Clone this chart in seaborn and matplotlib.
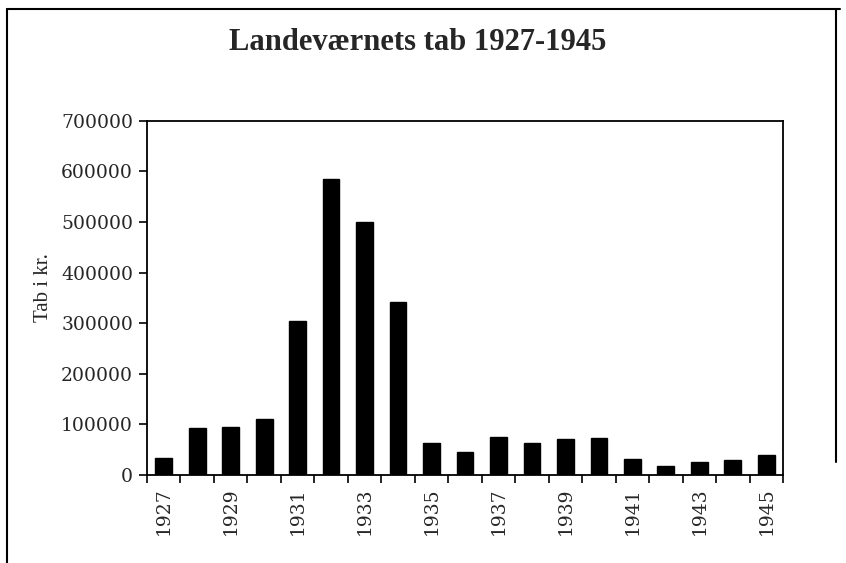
import matplotlib
matplotlib.use("Agg")
import matplotlib.pyplot as plt
import seaborn as sns
import pandas as pd
from matplotlib.lines import Line2D
from matplotlib.ticker import FixedLocator

years = list(range(1927, 1946))
losses = [34000, 92000, 94000, 111000, 304000, 584000, 500000, 342000,
          63000, 45000, 75000, 63500, 71500, 73000, 32000, 18000, 25000, 30000, 39000]
label_years = [str(y) if (y - 1927) % 2 == 0 else "" for y in years]
title = "Landeværnets tab 1927-1945"
ylabel = "Tab i kr."

sns.set_theme(style="white")
plt.rcParams['font.family'] = ['Liberation Serif', 'DejaVu Serif']
tick_font = ['DejaVu Serif', 'Liberation Serif']

df = pd.DataFrame({"year": [str(y) for y in years], "loss": losses})

fig = plt.figure(figsize=(8.46, 5.63), dpi=100)
ax = fig.add_axes([147/846, 1-475/563, (783-147)/846, (475-120.7)/563])
sns.barplot(data=df, x="year", y="loss", color="black", width=0.5,
            saturation=1, ax=ax, edgecolor="black")

ax.set_xlim(-0.5, len(years) - 0.5)
ax.set_ylim(0, 700000)
ax.set_yticks(range(0, 700001, 100000))
ax.set_yticklabels([str(v) for v in range(0, 700001, 100000)], fontsize=13.5, family=tick_font)
ax.set_xticks(range(len(years)))
ax.set_xticklabels(label_years, rotation=90, fontsize=13.5, family=tick_font)
ax.xaxis.set_minor_locator(FixedLocator([i - 0.5 for i in range(len(years) + 1)]))
ax.tick_params(axis="x", which="major", length=0, pad=9)
ax.tick_params(axis="x", which="minor", length=6, width=1.2, color="black", direction="out", bottom=True)
ax.tick_params(axis="y", which="major", length=6, width=1.2, color="black", direction="out", left=True, pad=4)
for s in ax.spines.values():
    s.set_visible(True)
    s.set_color("black")
    s.set_linewidth(1.3)
ax.set_xlabel("")
ax.set_ylabel(ylabel, fontsize=15)
ax.yaxis.set_label_coords(-0.148, 0.53)
ax.grid(False)

fig.text(0.494, 1 - 42/563, title, ha="center", va="center", fontsize=22, fontweight="bold")

# outer chart frame
fig.add_artist(Line2D([7/846, 840/846], [1-9/563, 1-9/563], color="black", lw=1.5))
fig.add_artist(Line2D([7/846, 7/846], [1-9/563, 0], color="black", lw=1.5))
fig.add_artist(Line2D([836/846, 836/846], [1-9/563, 1-462/563], color="black", lw=1.5))

fig.savefig("out.png", dpi=100, facecolor="white")
